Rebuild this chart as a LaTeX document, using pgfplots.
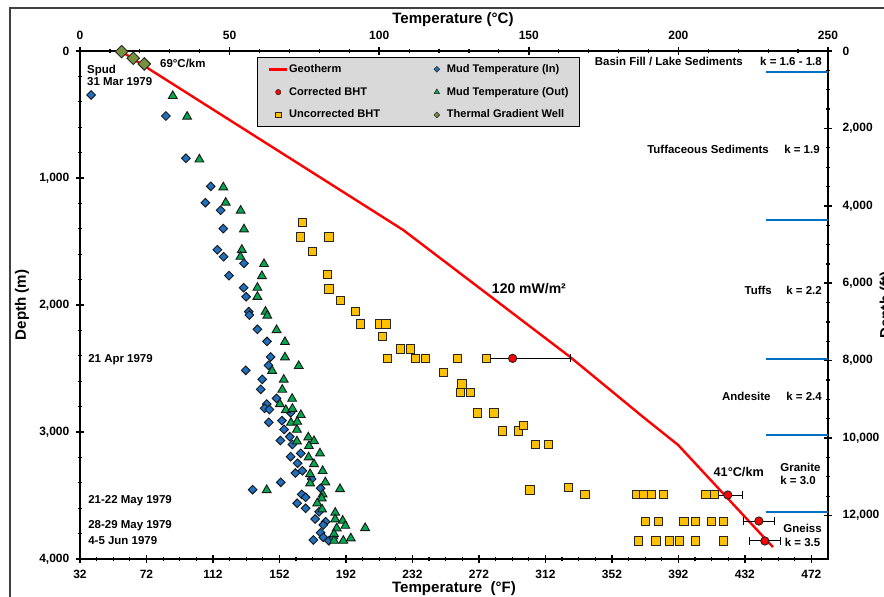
\documentclass[border=0pt]{standalone}
\usepackage{fontspec}
\setmainfont{Liberation Sans}
\usepackage{pgfplots}
\pgfplotsset{compat=1.18}
\definecolor{mudblue}{RGB}{30,112,192}
\definecolor{mudgreen}{RGB}{0,168,80}
\definecolor{bhtgold}{RGB}{255,192,0}
\definecolor{tgolive}{RGB}{118,146,60}
\definecolor{layerblue}{RGB}{0,112,192}
\definecolor{leggray}{RGB}{217,217,217}
\newcommand{\tickfont}{\fontsize{9}{10}\selectfont\bfseries}
\newcommand{\titlefont}{\fontsize{11.3}{13}\selectfont\bfseries}
\newcommand{\annfont}{\fontsize{8.6}{10}\selectfont\bfseries}
\pgfplotsset{
  lgline/.style={legend image code/.code={\draw[##1] (0pt,0pt) -- (13.5pt,0pt);}},
  lgmark/.style={legend image code/.code={\path (0pt,0pt) (13.5pt,0pt); \draw[##1] plot coordinates {(6.75pt,0pt)};}},
  basestyle/.style={
    width=561pt, height=381pt, scale only axis,
    at={(0pt,0pt)}, anchor=south west,
    y dir=reverse,
    axis line style={line width=1.5pt, black},
    tick align=center,
    major tick length=6pt, minor tick length=3.5pt,
    every tick/.style={black, line width=1.2pt},
    minor tick style={line width=0.9pt},
    ticklabel style={font=\tickfont},
    scaled x ticks=false, scaled y ticks=false,
    /pgf/number format/assume math mode=true,
    /pgf/number format/1000 sep={,},
    clip=false,
  }
}
\begin{document}
\begin{tikzpicture}
\useasboundingbox (-60pt,-27.75pt) rectangle (603pt,419.25pt);
\fill[white] (-60pt,-27.75pt) rectangle (603pt,419.25pt);
\draw[black!75, line width=0.8pt] (-52.5pt,-40pt) -- (-52.5pt,413.25pt) -- (620pt,413.25pt);
% Fahrenheit / feet axis (bottom, right)
\begin{axis}[basestyle, xmin=32, xmax=482, ymin=0, ymax=13123.36,
  xtick={32,72,...,472}, minor x tick num=3,
  ytick={0,2000,...,12000}, minor y tick num=3,
  xtick pos=left, xticklabel pos=left,
  ytick pos=right, yticklabel pos=right,
  xticklabel style={yshift=-2pt},
  yticklabel style={xshift=4.5pt}]
\end{axis}
% Celsius / metres axis (top, left) with the data
\begin{axis}[basestyle, xmin=0, xmax=250, ymin=0, ymax=4000,
  xtick={0,50,...,250}, minor x tick num=4,
  ytick={0,1000,...,4000}, minor y tick num=4,
  xtick pos=right, xticklabel pos=right,
  ytick pos=left, yticklabel pos=left,
  xticklabel style={yshift=2pt},
  yticklabel style={xshift=-1.5pt},
  legend columns=2,
  legend cell align=left,
  legend style={at={(0.2366,0.988)}, anchor=north west,
    draw=black, fill=leggray, line width=0.6pt,
    font=\fontsize{8.3}{10}\selectfont\bfseries,
    nodes={inner xsep=0.5pt, inner ysep=0.5pt},
    inner xsep=8pt, inner ysep=4.6pt, row sep=8.6pt,
    /tikz/every even column/.append style={column sep=35pt}},
  ]
% geotherm
\addplot[red, line width=1.8pt, line join=round, forget plot] coordinates {
(13.6,0)(108.0,1409)(163.8,2409)(188.2,2882)(199.9,3102)(231.6,3906)};
% layer boundaries
\addplot[layerblue, line width=1.5pt, forget plot] coordinates {(229.4,163)(250,163)};
\addplot[layerblue, line width=1.5pt, forget plot] coordinates {(229.4,1331)(250,1331)};
\addplot[layerblue, line width=1.5pt, forget plot] coordinates {(229.4,2425)(250,2425)};
\addplot[layerblue, line width=1.5pt, forget plot] coordinates {(229.4,3024)(250,3024)};
\addplot[layerblue, line width=1.5pt, forget plot] coordinates {(229.4,3628)(250,3628)};
% uncorrected BHT
\addplot[only marks, mark=square*, mark size=3.1pt,
  mark options={fill=bhtgold, draw=black!85, line width=0.7pt}, forget plot] coordinates {
(74.3,1349)(73.8,1465)(83.2,1465)(77.6,1580)(82.7,1761)(83.2,1874)(87.1,1966)
(92.1,2050)(93.8,2150)(100.0,2150)(102.3,2150)(101.0,2250)(107.2,2346)(110.5,2346)
(102.7,2420)(112.0,2420)(115.5,2420)(126.1,2420)(135.9,2420)(121.4,2530)
(127.7,2622)(127.1,2691)(130.4,2691)(132.8,2850)(138.4,2850)(141.1,2992)
(146.6,2992)(148.3,2947)(152.2,3100)(156.6,3100)
(150.4,3457)(163.2,3439)
(168.8,3491)(186.1,3491)(188.5,3491)(191.1,3491)(195.0,3491)(209.2,3491)(212.0,3491)
(189.1,3706)(193.3,3706)(201.9,3706)(205.8,3706)(211.1,3706)(215.0,3706)
(186.6,3858)(192.5,3858)(197.0,3858)(200.3,3858)(205.8,3858)(215.0,3858)};
% mud temperature in
\addplot[only marks, mark=square*, mark size=2.3pt,
  mark options={rotate=45, fill=mudblue, draw=black!90, line width=0.7pt}, forget plot] coordinates {
(3.7,346)(28.7,512)(35.4,845)(43.7,1065)(41.9,1194)(47.0,1254)(47.9,1399)(45.9,1565)
(48.0,1620)(54.8,1672)(49.8,1769)(54.7,1864)(55.5,1935)(56.4,2053)(56.6,2079)
(59.3,2191)(62.5,2287)(63.7,2409)(63.0,2475)(55.4,2514)(60.9,2585)(60.4,2664)
(65.7,2735)(62.4,2780)(61.7,2813)(63.3,2823)(70.4,2848)(63.1,2924)(67.5,2911)
(68.2,2980)(70.1,3037)(67.0,3067)(71.0,3098)(73.8,3168)(70.4,3194)(72.7,3246)
(74.3,3305)(72.0,3323)(77.4,3370)(67.1,3396)(57.7,3454)(80.4,3443)(74.1,3491)
(75.4,3514)(72.6,3561)(75.4,3601)(79.9,3628)(78.6,3685)(82.1,3706)(81.3,3732)
(80.4,3793)(81.3,3829)(78.0,3850)(83.2,3856)(84.7,3837)};
% mud temperature out
\addplot[only marks, mark=triangle*, mark size=3.8pt,
  mark options={fill=mudgreen, draw=black!90, line width=0.7pt}, forget plot] coordinates {
(31.0,354)(35.8,517)(39.9,854)(47.9,1073)(48.7,1194)(53.7,1257)(54.8,1404)
(54.1,1565)(53.6,1620)(61.5,1677)(60.8,1772)(59.3,1864)(59.3,1935)(62.0,2053)
(62.6,2084)(65.7,2197)(68.5,2291)(68.5,2412)(73.1,2480)(64.2,2518)(68.1,2588)
(67.6,2667)(70.9,2738)(66.8,2780)(68.8,2827)(71.0,2817)(73.8,2866)(70.5,2927)
(72.6,2919)(72.5,2982)(76.3,3042)(78.2,3071)(72.5,3073)(76.5,3110)(80.2,3168)
(76.4,3199)(78.2,3252)(81.1,3307)(76.9,3331)(76.9,3404)(82.0,3396)(62.4,3457)
(86.9,3449)(81.1,3491)(80.8,3522)(79.3,3561)(80.9,3609)(85.3,3635)(85.3,3687)
(87.8,3698)(88.7,3738)(85.8,3758)(84.9,3803)(90.5,3837)(88.0,3856)(84.9,3856)
(95.3,3756)};
% corrected BHT
\addplot[only marks, mark=*, mark size=3.1pt,
  mark options={fill=red, draw=black!85, line width=0.7pt}, forget plot,
  error bars/.cd, x dir=both, x explicit, error mark=|,
  error bar style={black, line width=0.75pt},
  error mark options={black, line width=0.75pt, mark size=3pt}]
  table[x=x, y=y, x error plus=ep, x error minus=em] {
x y ep em
144.6 2420 19.2 8.7
216.5 3496 5.0 5.0
226.9 3701 5.1 5.2
228.9 3858 5.1 5.2
};
% thermal gradient well
\addplot[only marks, mark=square*, mark size=3.3pt,
  mark options={rotate=45, fill=tgolive, draw=black!85, line width=0.7pt}, forget plot] coordinates {
(13.9,5)(17.8,57)(21.5,102)};
% legend
\addlegendimage{red, line width=1.8pt, lgline}
\addlegendentry{Geotherm}
\addlegendimage{only marks, mark=square*, mark size=1.5pt, mark options={rotate=45, fill=mudblue, draw=black!85, line width=0.4pt}, lgmark}
\addlegendentry{Mud Temperature (In)}
\addlegendimage{only marks, mark=*, mark size=2pt, mark options={fill=red, draw=black!85, line width=0.4pt}, lgmark}
\addlegendentry{Corrected BHT}
\addlegendimage{only marks, mark=triangle*, mark size=2.4pt, mark options={fill=mudgreen, draw=black!85, line width=0.4pt}, lgmark}
\addlegendentry{Mud Temperature (Out)}
\addlegendimage{only marks, mark=square*, mark size=1.9pt, mark options={fill=bhtgold, draw=black!85, line width=0.4pt}, lgmark}
\addlegendentry{Uncorrected BHT}
\addlegendimage{only marks, mark=square*, mark size=1.5pt, mark options={rotate=45, fill=tgolive, draw=black!85, line width=0.4pt}, lgmark}
\addlegendentry{Thermal Gradient Well}
% annotations
\begin{scope}[every node/.style={font=\annfont, inner sep=0pt}]
\node[anchor=base west] at (axis cs:2.3,177) {Spud};
\node[anchor=base west] at (axis cs:2.3,273) {31 Mar 1979};
\node[anchor=base west] at (axis cs:26.7,131) {69°C/km};
\node[anchor=base west] at (axis cs:2.7,2451) {21 Apr 1979};
\node[anchor=base west] at (axis cs:2.7,3562) {21-22 May 1979};
\node[anchor=base west] at (axis cs:2.7,3758) {28-29 May 1979};
\node[anchor=base west] at (axis cs:2.7,3882) {4-5 Jun 1979};
\node[anchor=base west, font=\fontsize{10.5}{12}\selectfont\bfseries] at (axis cs:137.6,1908) {120 mW/m²};
\node[anchor=base west, font=\fontsize{9.5}{11}\selectfont\bfseries] at (axis cs:211.7,3352) {41°C/km};
\node[anchor=base east] at (axis cs:221.6,116) {Basin Fill / Lake Sediments};
\node[anchor=base east] at (axis cs:248.0,116) {k = 1.6 - 1.8};
\node[anchor=base east] at (axis cs:230.3,806) {Tuffaceous Sediments};
\node[anchor=base east] at (axis cs:247.3,806) {k = 1.9};
\node[anchor=base east] at (axis cs:231.3,1921) {Tuffs};
\node[anchor=base east] at (axis cs:248.0,1921) {k = 2.2};
\node[anchor=base east] at (axis cs:230.9,2753) {Andesite};
\node[anchor=base east] at (axis cs:248.0,2753) {k = 2.4};
\node[anchor=base west] at (axis cs:234.0,3310) {Granite};
\node[anchor=base west] at (axis cs:234.0,3415) {k = 3.0};
\node[anchor=base] at (axis cs:241.5,3790) {Gneiss};
\node[anchor=base] at (axis cs:241.5,3898) {k = 3.5};
\end{scope}
\end{axis}
% axis titles
\node[font=\titlefont] at (279.75pt,404.25pt) {Temperature (°C)};
\node[font=\titlefont] at (280.5pt,-22.5pt) {Temperature\ \ (°F)};
\node[font=\titlefont, rotate=90] at (-43.5pt,190.5pt) {Depth (m)};
\node[font=\titlefont, rotate=90] at (605pt,190.5pt) {Depth (ft)};
\end{tikzpicture}
\end{document}
